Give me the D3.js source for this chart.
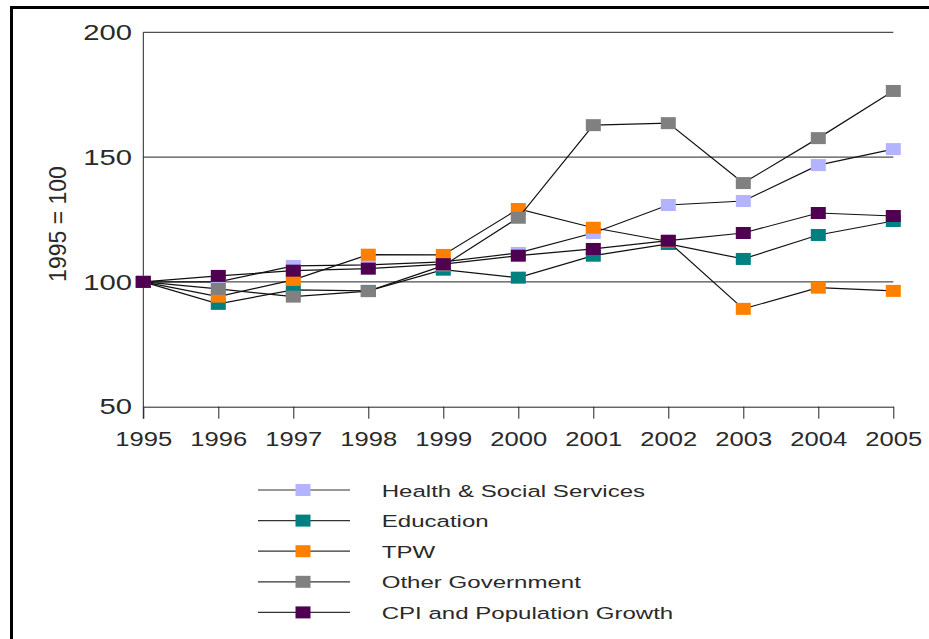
<!DOCTYPE html>
<html>
<head>
<meta charset="utf-8">
<script src="https://cdn.jsdelivr.net/npm/d3@7"></script>
<style>
  html, body { margin: 0; padding: 0; background: #fff; }
  svg { display: block; }
  text { font-family: "Liberation Sans", Arial, sans-serif; fill: #2a2a2a; }
</style>
</head>
<body>
<svg id="chart" width="929" height="639"></svg>
<script>
// ---- data ----
const years = [1995, 1996, 1997, 1998, 1999, 2000, 2001, 2002, 2003, 2004, 2005];
const seriesNames = ["Health & Social Services", "Education", "TPW", "Other Government", "CPI and Population Growth"];
const health    = [100, 100.0, 106.4, 106.8, 108.0, 111.6, 119.6, 130.8, 132.4, 146.8, 153.2];
const education = [100,  91.2,  96.8,  96.4, 104.9, 101.7, 110.5, 115.2, 109.2, 118.8, 124.4];
const tpw       = [100,  94.1, 100.8, 110.9, 110.8, 129.2, 121.7, 116.2,  89.2,  97.7,  96.4];
const otherGov  = [100,  97.2,  94.1,  96.3, 106.5, 125.7, 162.8, 163.6, 139.6, 157.6, 176.5];
const cpiPop    = [100, 102.4, 104.5, 105.3, 107.1, 110.5, 113.2, 116.5, 119.6, 127.6, 126.4];
const seriesColors = ["#b3b3ff", "#008080", "#ff8000", "#808080", "#500050"];
const yTicks = [50, 100, 150, 200];
const yTitle = "1995 = 100";

const seriesValues = [health, education, tpw, otherGov, cpiPop];
const series = seriesNames.map((name, i) => ({
  name, color: seriesColors[i],
  points: years.map((yr, j) => ({ year: yr, value: seriesValues[i][j] }))
}));

// ---- layout ----
const svg = d3.select("#chart");
const x = d3.scaleLinear().domain([1995, 2005]).range([143.3, 893.3]);
const y = d3.scaleLinear().domain([50, 200]).range([406.7, 32.3]);
const mw = 15, mh = 12;

// outer frame (left and top edges visible)
svg.append("rect").attr("x", 10).attr("y", 6).attr("width", 3).attr("height", 639 - 6).attr("fill", "#000");
svg.append("rect").attr("x", 10).attr("y", 6).attr("width", 929 - 10).attr("height", 3).attr("fill", "#000");

// gridlines
svg.append("g").selectAll("line").data(yTicks.filter(d => d > 50)).join("line")
  .attr("x1", x(1995)).attr("x2", x(2005))
  .attr("y1", d => y(d)).attr("y2", d => y(d))
  .attr("stroke", "#222").attr("stroke-width", 1);

// x axis
const xAxis = svg.append("g").attr("transform", `translate(0,${y(50)})`)
  .call(d3.axisBottom(x).tickValues(years).tickFormat(d3.format("d")).tickSize(12).tickSizeOuter(0).tickPadding(13.3));
xAxis.select(".domain").attr("stroke", "#222");
xAxis.selectAll(".tick line").attr("stroke", "#222");
xAxis.selectAll("text").attr("font-size", 20).attr("fill", "#2a2a2a")
  .attr("font-family", "Liberation Sans, Arial, sans-serif")
  .attr("transform", "scale(1.28,1)");

// y axis
const yAxis = svg.append("g").attr("transform", `translate(${x(1995)},0)`)
  .call(d3.axisLeft(y).tickValues(yTicks).tickSize(0).tickPadding(0));
yAxis.select(".domain").remove();
yAxis.selectAll("text").attr("font-size", 22.5).attr("fill", "#2a2a2a")
  .attr("font-family", "Liberation Sans, Arial, sans-serif")
  .attr("x", -11.3 / 1.3).attr("transform", "scale(1.3,1)");
svg.append("line").attr("x1", x(1995)).attr("x2", x(1995))
  .attr("y1", y(200)).attr("y2", y(50) + 12).attr("stroke", "#222");

// y title
svg.append("text").attr("transform", `translate(66,224) rotate(-90)`)
  .attr("text-anchor", "middle").attr("font-size", 23).text(yTitle);

// series
const line = d3.line().x(d => x(d.year)).y(d => y(d.value));
series.forEach(s => {
  const g = svg.append("g");
  g.append("path").datum(s.points).attr("d", line)
    .attr("fill", "none").attr("stroke", "#111").attr("stroke-width", 1.2);
  g.selectAll("rect").data(s.points).join("rect")
    .attr("x", d => x(d.year) - mw / 2).attr("y", d => y(d.value) - mh / 2)
    .attr("width", mw).attr("height", mh).attr("fill", s.color);
});

// legend
const legend = svg.append("g");
series.forEach((s, i) => {
  const cy = 490 + i * 30.6;
  const g = legend.append("g");
  g.append("line").attr("x1", 258).attr("x2", 350).attr("y1", cy).attr("y2", cy)
    .attr("stroke", "#333").attr("stroke-width", 1.2);
  g.append("rect").attr("x", 303 - mw / 2).attr("y", cy - mh / 2)
    .attr("width", mw).attr("height", mh).attr("fill", s.color);
  g.append("text").attr("transform", `translate(381.7,${cy + 6.5}) scale(1.4,1)`)
    .attr("font-size", 17.2).text(s.name);
});
</script>
</body>
</html>
